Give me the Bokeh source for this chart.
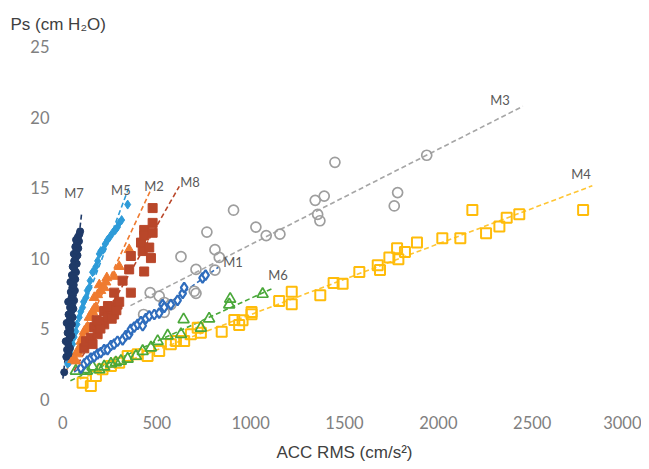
import numpy as np
from bokeh.plotting import figure
from bokeh.models import Label, Range1d, FixedTicker
from bokeh.core.properties import value
from bokeh.embed import file_html
from bokeh.resources import INLINE

# ---------------- data ----------------
m7_x = [7, 18, 30, 22, 38, 28, 15, 35, 45, 25, 40, 32, 48, 20, 36, 52, 30, 44, 56, 38,
        50, 28, 60, 46, 54, 42, 64, 50, 58, 40, 66, 55, 48, 70, 62, 52, 74, 60, 68, 78,
        58, 72, 82, 66, 76, 86, 70, 80, 88, 92]
m7_y = [1.9, 3.0, 3.2, 3.5, 3.6, 3.9, 4.1, 4.3, 4.5, 4.7, 4.9, 5.1, 5.3, 5.4, 5.6, 5.8,
        6.0, 6.2, 6.4, 6.5, 6.7, 6.9, 7.0, 7.2, 7.4, 7.6, 7.7, 7.9, 8.1, 8.3, 8.5, 8.6,
        8.8, 9.0, 9.2, 9.4, 9.6, 9.8, 10.0, 10.2, 10.3, 10.5, 10.7, 10.8, 11.0, 11.2,
        11.3, 11.5, 11.7, 11.9]

m5_x = [25, 34, 43, 52, 60, 69, 75, 87, 95, 105, 110, 123, 130, 140, 145, 158, 165, 176,
        185, 194, 202, 215, 225, 238, 250, 265, 280, 291, 300, 313, 345]
m5_y = [2.5, 2.6, 3.2, 3.9, 4.4, 4.8, 5.3, 5.8, 6.2, 6.5, 6.9, 7.2, 7.7, 7.9, 8.4, 9.0,
        9.1, 9.4, 9.8, 10.3, 10.5, 10.6, 11.0, 11.3, 11.5, 11.8, 12.0, 12.2, 12.5, 12.7, 13.8]

m2_x = [52, 69, 78, 78, 96, 96, 105, 114, 125, 131, 140, 149, 158, 167, 176, 167, 185,
        194, 202, 220, 229, 234, 273, 300, 353]
m2_y = [2.8, 2.7, 3.2, 3.4, 3.6, 4.1, 4.4, 4.8, 5.0, 5.1, 5.8, 5.8, 6.2, 6.4, 6.5, 7.2,
        7.4, 8.1, 7.7, 7.9, 8.3, 8.6, 8.7, 9.4, 10.6]

m8_x = [114, 123, 149, 158, 167, 185, 194, 220, 220, 238, 256, 273, 273, 291, 318, 353,
        362, 362, 416, 425, 433, 433, 433, 460, 469, 478, 478, 478, 200, 240, 260, 180,
        285, 300]
m8_y = [3.6, 4.1, 4.35, 3.9, 5.1, 4.6, 5.5, 5.3, 6.25, 5.8, 6.5, 6.0, 7.55, 6.7, 8.4,
        9.2, 7.55, 10.15, 11.1, 10.5, 9.05, 12.0, 11.6, 10.75, 10.0, 11.8, 12.5, 13.55,
        5.0, 6.6, 5.7, 5.6, 6.3, 6.9]

m1_x = [96, 114, 130, 149, 167, 185, 202, 220, 238, 256, 273, 291, 318, 335, 353, 362,
        380, 398, 416, 425, 442, 460, 487, 513, 531, 540, 575, 611, 638, 646, 744, 760]
m1_y = [2.2, 2.5, 2.7, 2.9, 3.0, 3.2, 3.3, 3.5, 3.5, 3.8, 3.9, 4.1, 4.2, 4.5, 4.6, 4.95,
        5.1, 5.3, 5.5, 5.2, 5.7, 5.9, 6.0, 6.1, 6.7, 6.5, 6.7, 7.0, 7.5, 7.9, 8.6, 8.8]

m6_x = [69, 114, 128, 158, 194, 220, 256, 282, 309, 345, 389, 425, 469, 505, 558, 629,
        643, 735, 779, 886, 891, 1064]
m6_y = [2.0, 2.1, 2.0, 2.3, 2.1, 2.3, 2.5, 2.6, 2.7, 2.85, 3.05, 3.4, 3.65, 4.1, 4.5,
        4.6, 5.65, 5.05, 5.7, 6.7, 7.1, 7.45]

m3_x = [430, 465, 513, 540, 540, 575, 629, 700, 709, 709, 767, 810, 810, 833, 909, 1028,
        1083, 1156, 1344, 1357, 1369, 1392, 1449, 1765, 1783, 1938]
m3_y = [6.0, 7.55, 7.3, 6.85, 6.15, 6.7, 10.1, 7.65, 7.5, 9.2, 11.85, 10.6, 9.15, 10.05,
        13.4, 12.2, 11.6, 11.7, 14.1, 13.1, 12.65, 14.4, 16.8, 13.7, 14.65, 17.3]

m4_x = [105, 149, 176, 211, 256, 300, 345, 398, 451, 513, 575, 602, 646, 682, 735, 718,
        846, 939, 913, 957, 1005, 1005, 1152, 1219, 1219, 1371, 1442, 1490, 1579, 1677,
        1689, 1739, 1780, 1787, 1822, 1886, 2021, 2117, 2181, 2254, 2325, 2364, 2431, 2771]
m4_y = [1.16, 0.92, 1.63, 2.11, 2.34, 2.58, 3.05, 3.17, 3.05, 3.41, 3.88, 4.12, 4.12,
        4.6, 4.71, 5.06, 4.78, 5.26, 5.61, 5.59, 6.18, 6.02, 6.96, 7.62, 6.73, 7.37, 8.24,
        8.19, 9.02, 9.5, 9.16, 10.04, 10.7, 9.92, 10.44, 11.1, 11.41, 11.41, 13.42, 11.77,
        12.24, 12.86, 13.12, 13.42]

# extent of each linear trendline (x from, x to)
trend_span = {
    "M7": (0, 100), "M5": (10, 350), "M2": (20, 470), "M8": (60, 620),
    "M1": (60, 830), "M6": (40, 1120), "M3": (360, 2450), "M4": (90, 2820),
}

x_ticks = [0, 500, 1000, 1500, 2000, 2500, 3000]
y_ticks = [0, 5, 10, 15, 20, 25]

# ---------------- figure ----------------
p = figure(frame_width=582, frame_height=365, output_backend="svg",
           toolbar_location=None,
           x_range=Range1d(-50, 3050), y_range=Range1d(-0.6, 25.3),
           min_border_left=53, min_border_right=6, min_border_top=42,
           min_border_bottom=56)
p.background_fill_color = "white"
p.border_fill_color = "white"
p.outline_line_color = None
p.xgrid.grid_line_color = None
p.ygrid.grid_line_color = None

p.title.text = "Ps (cm H₂O)"
p.title.align = "left"
p.title.vertical_align = "middle"
p.title.offset = -43
p.title.standoff = 15
p.title.text_font = "Liberation Sans"
p.title.text_font_size = "17px"
p.title.text_font_style = "normal"
p.title.text_color = "#404040"

for ax in (p.xaxis, p.yaxis):
    ax.axis_line_color = None
    ax.major_tick_line_color = None
    ax.minor_tick_line_color = None
    ax.major_tick_out = 0
    ax.major_tick_in = 0
    ax.major_label_text_font = "Lato"
    ax.major_label_text_font_size = "16.5px"
    ax.major_label_text_color = "#808080"

p.xaxis.ticker = FixedTicker(ticks=x_ticks)
p.yaxis.ticker = FixedTicker(ticks=y_ticks)
p.xaxis.major_label_standoff = 8
p.yaxis.major_label_standoff = 4
p.xaxis.axis_label = "ACC RMS (cm/s²)"
p.xaxis.axis_label_text_font = "Liberation Sans"
p.xaxis.axis_label_text_font_size = "17px"
p.xaxis.axis_label_text_font_style = "normal"
p.xaxis.axis_label_text_color = "#404040"
p.xaxis.axis_label_standoff = 11

series = [
    # name, xs, ys, marker, size, fill, line, line_width, trend colour
    ("M3", m3_x, m3_y, "circle", 10, None, "#9e9e9e", 1.7, "#a6a6a6"),
    ("M4", m4_x, m4_y, "square", 10, None, "#ffbc0a", 2.0, "#ffc533"),
    ("M6", m6_x, m6_y, "triangle", 11, None, "#4aa83a", 1.7, "#4aa83a"),
    ("M1", m1_x, m1_y, "diamond", 10, "white", "#2f6dbd", 2.2, "#2f6dbd"),
    ("M5", m5_x, m5_y, "diamond", 9, "#2e9bd8", "#2e9bd8", 1.0, "#2e9bd8"),
    ("M2", m2_x, m2_y, "triangle", 10, "#ef7b30", "#ef7b30", 1.0, "#ef7b30"),
    ("M8", m8_x, m8_y, "square", 9, "#b9472a", "#b9472a", 1.0, "#b9472a"),
    ("M7", m7_x, m7_y, "circle", 7, "#1f3a68", "#1f3a68", 1.0, "#1f3a68"),
]

for name, xs, ys, marker, size, fill, line, lw, tcol in series:
    k, b = np.polyfit(np.array(xs, float), np.array(ys, float), 1)
    x0, x1 = trend_span[name]
    tx = np.array([x0, x1], float)
    p.line(tx, k * tx + b, line_color=tcol, line_width=1.6, line_dash="5 3")

for name, xs, ys, marker, size, fill, line, lw, tcol in series:
    p.scatter(xs, ys, marker=marker, size=size, fill_color=fill, line_color=line,
              line_width=lw)

# series labels (data coordinates)
label_pos = {
    "M7": (59, 14.6), "M5": (309, 14.8), "M2": (485, 15.1), "M8": (677, 15.4),
    "M1": (906, 9.7), "M6": (1146, 8.8), "M3": (2328, 21.2), "M4": (2760, 16.0),
}
for name, (lx, ly) in label_pos.items():
    p.add_layout(Label(x=lx, y=ly, text=name, text_font="Lato",
                       text_font_size="13px", text_color="#595959",
                       text_align="center", text_baseline="middle"))

open("out.html", "w").write(file_html(p, INLINE))
